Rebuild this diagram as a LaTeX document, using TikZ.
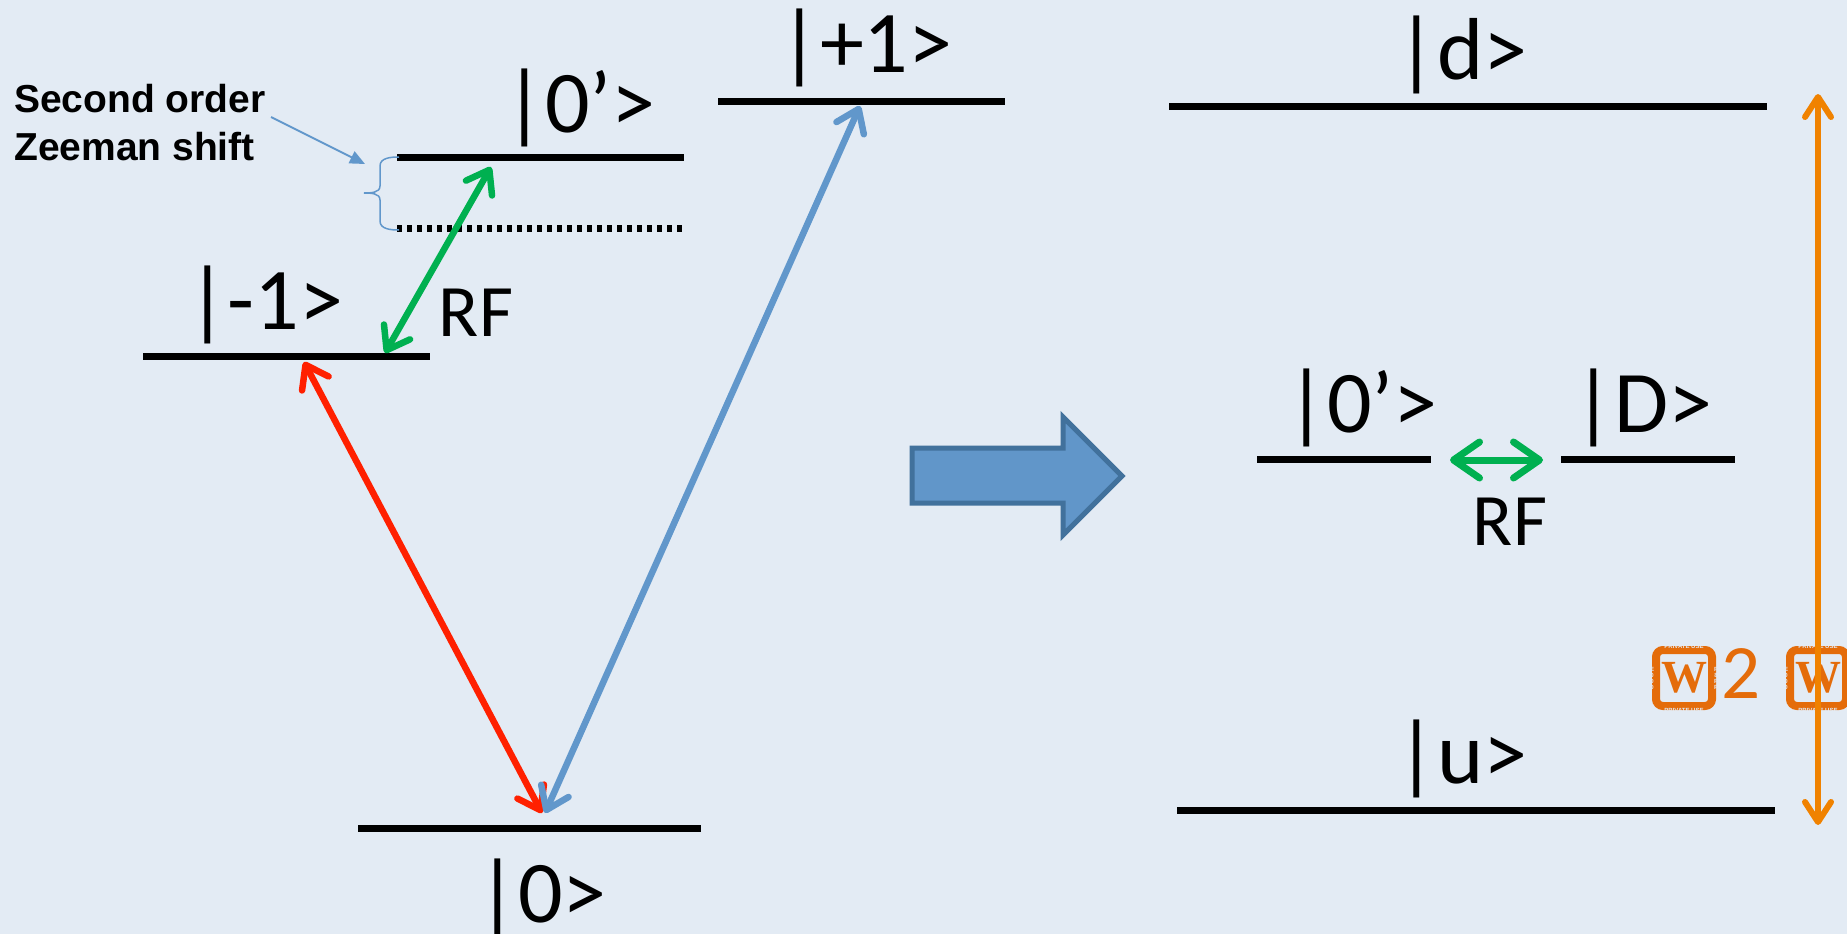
\documentclass[tikz,border=0pt]{standalone}
\usepackage{fontspec}
\setmainfont{Carlito}
\newfontfamily\zfont{Liberation Sans}
\newfontfamily\wfont{Liberation Serif}
\usetikzlibrary{arrows.meta}
\definecolor{bg}{RGB}{227,235,244}
\definecolor{redA}{RGB}{255,32,0}
\definecolor{blueA}{RGB}{97,151,203}
\definecolor{greenA}{RGB}{0,176,80}
\definecolor{orangeL}{RGB}{240,130,0}
\definecolor{orangeT}{RGB}{228,108,10}
\definecolor{bigfill}{RGB}{97,150,201}
\definecolor{bigdraw}{RGB}{65,113,156}
\begin{document}
\begin{tikzpicture}[x=1pt,y=-1pt,
  level/.style={line width=7pt},
  ket/.style={anchor=base, inner sep=0pt, font=\fontsize{88}{88}\selectfont},
  rf/.style={anchor=base, inner sep=0pt, font=\fontsize{74}{74}\selectfont},
  zee/.style={anchor=base west, inner sep=0pt, font=\zfont\bfseries\fontsize{39}{39}\selectfont},
  trans/.style={line width=6.5pt, line cap=round, {Straight Barb[round,length=21pt,width=30pt]}-{Straight Barb[round,length=21pt,width=30pt]}},
  pua/.style={draw=orangeT, line width=8pt, rounded corners=7pt, minimum width=56pt, minimum height=56pt, inner sep=0pt, text=orangeT, font=\wfont\bfseries\fontsize{46}{46}\selectfont},
  tiny/.style={inner sep=0pt, text=bg, font=\zfont\bfseries\fontsize{6}{6}\selectfont, align=center}
]
\fill[bg] (0,0) rectangle (1847,934);
\useasboundingbox (0,0) rectangle (1847,934);
\clip (0,0) rectangle (1847,934);

% ---------- left scheme: levels ----------
\coordinate (p1a) at (718,101);  \coordinate (p1b) at (1005,101);
\coordinate (zpa) at (397,157);  \coordinate (zpb) at (684,157);
\coordinate (zda) at (397,228);  \coordinate (zdb) at (686,228);
\coordinate (m1a) at (143,356);  \coordinate (m1b) at (430,356);
\coordinate (z0a) at (358,828);  \coordinate (z0b) at (701,828);
\draw[level] (p1a) -- (p1b);
\draw[level] (zpa) -- (zpb);
\draw[level, dash pattern=on 5pt off 5pt] (zda) -- (zdb);
\draw[level] (m1a) -- (m1b);
\draw[level] (z0a) -- (z0b);

\node[ket] (kp1) at (866,73) {|+1>};
\node[ket] (kzp) at (580,132) {|0’>};
\node[ket] (km1) at (265,329) {|-1>};
\node[ket] (kz0) at (542,922) {|0>};
\node[rf] (rfL) at (476,336) {RF};

\node[zee] (zee1) at (14,112) {Second order};
\node[zee] (zee2) at (14,160) {Zeeman shift};

% brace and pointer
\draw[blueA, line width=1.5pt]
  (399,157) to[out=180,in=90] (380,166) -- (380,186) to[out=-90,in=0] (364,193)
  to[out=0,in=90] (380,200) -- (380,221) to[out=-90,in=180] (399,230);
\coordinate (zs) at (271,117);
\coordinate (zt) at (365,164);
\draw[blueA, line width=2pt, -{Triangle[length=15pt,width=13pt]}] (zs) -- (zt);

% transitions
\coordinate (gTop) at (491,167);  \coordinate (gBot) at (385,353);
\coordinate (rTop) at (304,362);  \coordinate (rBot) at (542,813);
\coordinate (bTop) at (860,106);  \coordinate (bBot) at (545,813);
\draw[trans, greenA] (gTop) -- (gBot);
\draw[trans, redA] (rTop) -- (rBot);
\draw[trans, blueA] (bTop) -- (bBot);

% ---------- big arrow ----------
\draw[fill=bigfill, draw=bigdraw, line width=5pt, line join=miter]
  (912,448) -- (1063,448) -- (1063,417) -- (1122,476) -- (1063,535)
  -- (1063,503) -- (912,503) -- cycle;

% ---------- right scheme ----------
\coordinate (da) at (1169,106);  \coordinate (db) at (1767,106);
\coordinate (ua) at (1177,810);  \coordinate (ub) at (1775,810);
\coordinate (oa) at (1257,459);  \coordinate (ob) at (1431,459);
\coordinate (Da) at (1561,459);  \coordinate (Db) at (1735,459);
\draw[level] (da) -- (db);
\draw[level] (ua) -- (ub);
\draw[level] (oa) -- (ob);
\draw[level] (Da) -- (Db);

\node[ket] (kd) at (1462,80) {|d>};
\node[ket] (ku) at (1462,783) {|u>};
\node[ket] (kzm) at (1362,432) {|0’>};
\node[ket] (kD) at (1643,432) {|D>};
\node[rf] (rfR) at (1510,545) {RF};

\coordinate (gmL) at (1450,460);
\coordinate (gmR) at (1543,460);
\draw[greenA, line width=7pt, line cap=round,
  {Straight Barb[round,length=26pt,width=36pt]}-{Straight Barb[round,length=26pt,width=36pt]}] (gmL) -- (gmR);

% private-use glyph boxes and label
\node[pua] (pu1) at (1684,678) {W};
\node[tiny] at (pu1.north) {PRIVATE USE};
\node[tiny] at (pu1.south) {PRIVATE USE};
\node[tiny] at (pu1.west) {E\\0\\0\\0};
\node[tiny] at (pu1.east) {F\\8\\F\\F};
\node[anchor=base, inner sep=0pt, text=orangeT, font=\fontsize{77}{77}\selectfont] (two) at (1741,698) {2};
\node[pua] (pu2) at (1818,678) {W};
\node[tiny] at (pu2.north) {PRIVATE USE};
\node[tiny] at (pu2.south) {PRIVATE USE};
\node[tiny] at (pu2.west) {E\\0\\0\\0};

\coordinate (oTop) at (1818,94);
\coordinate (oBot) at (1818,825);
\draw[orangeL, line width=6pt, line cap=round,
  {Straight Barb[round,length=20pt,width=26pt]}-{Straight Barb[round,length=20pt,width=26pt]}] (oTop) -- (oBot);
\end{tikzpicture}
\end{document}
